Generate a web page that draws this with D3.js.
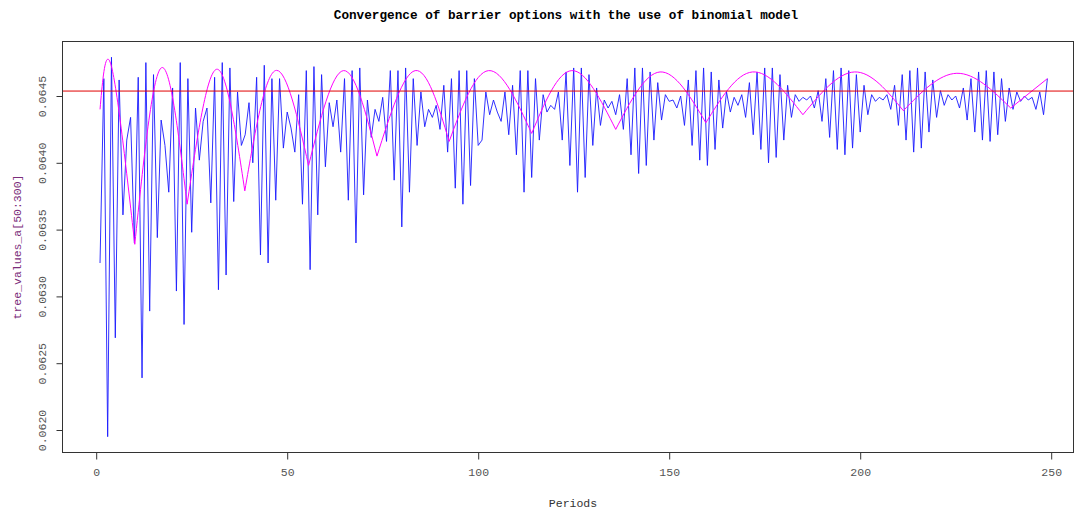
<!DOCTYPE html>
<html>
<head>
<meta charset="utf-8">
<script src="https://cdn.jsdelivr.net/npm/d3@7"></script>
<style>
  html, body { margin: 0; padding: 0; background: #fff; }
  svg { display: block; }
  text { font-family: "Liberation Mono", "DejaVu Sans Mono", monospace; }
</style>
</head>
<body>
<svg id="chart" width="1075" height="510"></svg>
<script>
// Binomial-tree prices of the barrier option, one value per period (1..249)
const treeValues = [
  0.06325, 0.06463, 0.06195, 0.06479, 0.06269, 0.06462, 0.06361, 0.06417, 0.06434, 0.06340,
  0.06464, 0.06239, 0.06475, 0.06289, 0.06466, 0.06344, 0.06432, 0.06413, 0.06378, 0.06456,
  0.06304, 0.06475, 0.06279, 0.06463, 0.06348, 0.06441, 0.06402, 0.06431, 0.06441, 0.06370,
  0.06464, 0.06305, 0.06475, 0.06316, 0.06471, 0.06371, 0.06453, 0.06413, 0.06421, 0.06445,
  0.06400, 0.06464, 0.06331, 0.06473, 0.06325, 0.06463, 0.06372, 0.06463, 0.06411, 0.06438,
  0.06426, 0.06408, 0.06451, 0.06369, 0.06469, 0.06320, 0.06472, 0.06361, 0.06466, 0.06397,
  0.06445, 0.06427, 0.06447, 0.06408, 0.06463, 0.06372, 0.06469, 0.06340, 0.06471, 0.06376,
  0.06447, 0.06419, 0.06440, 0.06431, 0.06449, 0.06416, 0.06469, 0.06387, 0.06469, 0.06352,
  0.06471, 0.06378, 0.06463, 0.06413, 0.06453, 0.06427, 0.06440, 0.06434, 0.06443, 0.06425,
  0.06458, 0.06408, 0.06463, 0.06381, 0.06469, 0.06369, 0.06469, 0.06383, 0.06463, 0.06413,
  0.06417, 0.06453, 0.06436, 0.06447, 0.06438, 0.06431, 0.06453, 0.06421, 0.06458, 0.06406,
  0.06469, 0.06378, 0.06469, 0.06389, 0.06463, 0.06417, 0.06451, 0.06438, 0.06443, 0.06440,
  0.06453, 0.06417, 0.06468, 0.06398, 0.06471, 0.06378, 0.06471, 0.06389, 0.06466, 0.06413,
  0.06456, 0.06428, 0.06447, 0.06441, 0.06446, 0.06436, 0.06451, 0.06425, 0.06463, 0.06406,
  0.06471, 0.06392, 0.06471, 0.06398, 0.06468, 0.06417, 0.06460, 0.06432, 0.06451, 0.06446,
  0.06447, 0.06441, 0.06450, 0.06428, 0.06462, 0.06413, 0.06469, 0.06402, 0.06471, 0.06398,
  0.06468, 0.06410, 0.06462, 0.06426, 0.06453, 0.06438, 0.06449, 0.06443, 0.06451, 0.06434,
  0.06460, 0.06421, 0.06468, 0.06410, 0.06471, 0.06400, 0.06471, 0.06404, 0.06466, 0.06417,
  0.06458, 0.06434, 0.06451, 0.06446, 0.06449, 0.06447, 0.06450, 0.06441, 0.06454, 0.06431,
  0.06463, 0.06419, 0.06469, 0.06410, 0.06471, 0.06406, 0.06469, 0.06411, 0.06466, 0.06423,
  0.06458, 0.06436, 0.06451, 0.06446, 0.06449, 0.06447, 0.06451, 0.06440, 0.06458, 0.06428,
  0.06466, 0.06417, 0.06469, 0.06408, 0.06471, 0.06411, 0.06468, 0.06423, 0.06462, 0.06434,
  0.06454, 0.06443, 0.06451, 0.06447, 0.06450, 0.06441, 0.06456, 0.06432, 0.06463, 0.06423,
  0.06468, 0.06417, 0.06469, 0.06416, 0.06468, 0.06421, 0.06463, 0.06431, 0.06456, 0.06440,
  0.06453, 0.06446, 0.06450, 0.06447, 0.06449, 0.06440, 0.06453, 0.06436, 0.06463
];

// Smoothed comparison curve: periods and values at its peaks and cusps
const smoothPeriods = [1, 4, 10.1, 17, 23.8, 31.5, 38.9, 46.9, 55.6, 64.7, 73.5, 83.5, 92.4,
  102.7, 114, 124.5, 136, 147.6, 159.6, 171.8, 185, 198.5, 211.3, 225.3, 239.4, 249];
const smoothValues = [0.06440, 0.06472, 0.06339, 0.06471, 0.06369, 0.06470, 0.06379, 0.06469,
  0.06398, 0.06469, 0.06405, 0.06469, 0.06416, 0.06469, 0.06422, 0.06469, 0.06425, 0.06468,
  0.06430, 0.06468, 0.06436, 0.06468, 0.06439, 0.06467, 0.06441, 0.06463];

// Reference (limit) price
const limitValue = 0.064537;

const xTicks = [0, 50, 100, 150, 200, 250];
const yTicks = [0.0620, 0.0625, 0.0630, 0.0635, 0.0640, 0.0645];

const titleText = "Convergence of barrier options with the use of binomial model";
const xLabel = "Periods";
const yLabel = "tree_values_a[50:300]";

const svg = d3.select("#chart");
const box = { left: 62.5, right: 1073.5, top: 41.5, bottom: 452.5 };

const x = d3.scaleLinear().domain([0, 250]).range([96.2, 1051.2]);
const y = d3.scaleLinear().domain([0.0620, 0.0645]).range([430, 96]);

svg.append("defs").append("clipPath").attr("id", "plotclip")
  .append("rect")
  .attr("x", box.left).attr("y", box.top)
  .attr("width", box.right - box.left).attr("height", box.bottom - box.top);

const plot = svg.append("g").attr("clip-path", "url(#plotclip)");

// blue: tree values
const blueLine = d3.line()
  .x((d, i) => x(i + 1))
  .y(d => y(d));
plot.append("path")
  .datum(treeValues)
  .attr("fill", "none")
  .attr("stroke", "#1a1aff")
  .attr("stroke-width", 0.9)
  .attr("d", blueLine);

// magenta: smooth arches between cusps
const smoothPts = smoothPeriods.map((p, i) => [p, smoothValues[i]]);
const arches = [];
for (let i = 0; i < smoothPts.length - 1; i += 2) {
  arches.push(smoothPts.slice(i, Math.min(i + 3, smoothPts.length)));
}
const smoothLine = d3.line()
  .x(d => x(d[0]))
  .y(d => y(d[1]))
  .curve(d3.curveNatural);
plot.selectAll("path.arch")
  .data(arches)
  .join("path")
  .attr("class", "arch")
  .attr("fill", "none")
  .attr("stroke", "#ff00ff")
  .attr("stroke-width", 1)
  .attr("d", smoothLine);

// red reference line
plot.append("line")
  .attr("x1", box.left).attr("x2", box.right)
  .attr("y1", y(limitValue)).attr("y2", y(limitValue))
  .attr("stroke", "#e00000")
  .attr("stroke-width", 1);

// frame
svg.append("rect")
  .attr("x", box.left).attr("y", box.top)
  .attr("width", box.right - box.left).attr("height", box.bottom - box.top)
  .attr("fill", "none")
  .attr("stroke", "#333")
  .attr("stroke-width", 1);

// x axis
const xAxis = d3.axisBottom(x).tickValues(xTicks).tickSize(7).tickPadding(8)
  .tickFormat(d3.format("d"));
const gx = svg.append("g").attr("transform", `translate(0,${box.bottom})`).call(xAxis);
gx.select(".domain").remove();
gx.selectAll(".tick line").attr("stroke", "#333");
gx.selectAll(".tick text")
  .attr("fill", "#555")
  .style("font-size", "11.5px")
  .style("font-family", "Liberation Mono, monospace");

// y axis
const yAxis = d3.axisLeft(y).tickValues(yTicks).tickSize(6).tickPadding(0)
  .tickFormat(d3.format(".4f"));
const gy = svg.append("g").attr("transform", `translate(${box.left},0)`).call(yAxis);
gy.select(".domain").remove();
gy.selectAll(".tick line").attr("stroke", "#333");
gy.selectAll(".tick text")
  .attr("fill", "#555")
  .attr("x", 0).attr("dy", null)
  .attr("text-anchor", "middle")
  .attr("dominant-baseline", "central")
  .attr("transform", "translate(-20,0) rotate(-90)")
  .style("font-size", "11.5px")
  .style("font-family", "Liberation Mono, monospace");

// titles
svg.append("text")
  .attr("x", 566).attr("y", 15)
  .attr("text-anchor", "middle")
  .attr("dominant-baseline", "central")
  .attr("fill", "#000")
  .style("font-weight", "bold")
  .style("font-size", "12.7px")
  .text(titleText);

svg.append("text")
  .attr("x", 573).attr("y", 503)
  .attr("text-anchor", "middle")
  .attr("dominant-baseline", "central")
  .attr("fill", "#333")
  .style("font-size", "11.5px")
  .text(xLabel);

svg.append("text")
  .attr("transform", `translate(17,${(box.top + box.bottom) / 2}) rotate(-90)`)
  .attr("text-anchor", "middle")
  .attr("dominant-baseline", "central")
  .attr("fill", "#7b2d7b")
  .style("font-size", "11.5px")
  .text(yLabel);
</script>
</body>
</html>
